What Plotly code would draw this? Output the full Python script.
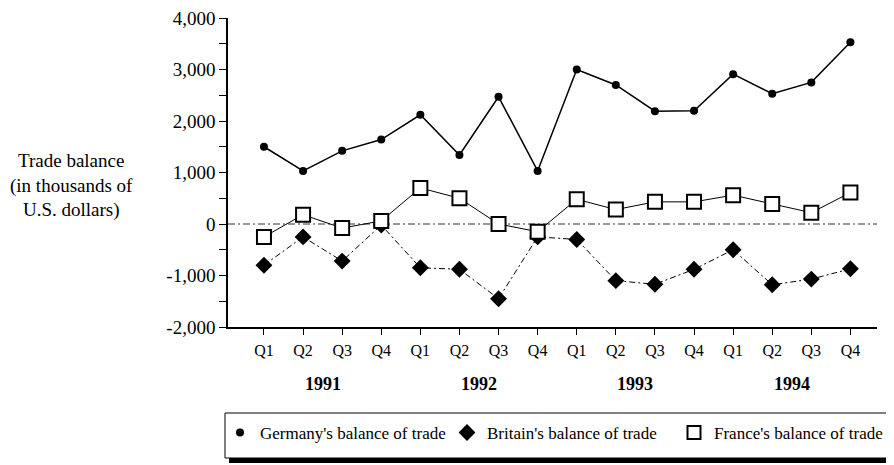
import plotly.graph_objects as go

quarters = ["Q1", "Q2", "Q3", "Q4"] * 4
years = ["1991", "1992", "1993", "1994"]
germany = [1500, 1030, 1420, 1640, 2120, 1340, 2470, 1030, 3000, 2700, 2190, 2200, 2910, 2530, 2750, 3530]
britain = [-800, -250, -720, -20, -850, -880, -1450, -250, -300, -1100, -1170, -880, -500, -1180, -1070, -870]
france = [-250, 180, -80, 60, 700, 500, 0, -150, 480, 280, 430, 430, 560, 390, 220, 610]
y_ticks = list(range(-2000, 4001, 500))
y_ticktext = [f"{v:,}" if v % 1000 == 0 else "" for v in y_ticks]

FONT = "Liberation Serif"
x = list(range(len(quarters)))

fig = go.Figure()
fig.add_trace(go.Scatter(x=x, y=germany, mode="lines+markers", showlegend=False,
                         line=dict(color="black", width=1.5),
                         marker=dict(symbol="circle", size=8, color="black")))
fig.add_trace(go.Scatter(x=x, y=britain, mode="lines+markers", showlegend=False,
                         line=dict(color="black", width=1, dash="6px,3px,2px,3px"),
                         marker=dict(symbol="diamond", size=13, color="black")))
fig.add_trace(go.Scatter(x=x, y=france, mode="lines+markers", showlegend=False,
                         line=dict(color="black", width=1),
                         marker=dict(symbol="square", size=14, color="white",
                                     line=dict(color="black", width=2))))
# legend-only entries (markers only, as in the reference)
fig.add_trace(go.Scatter(x=[None], y=[None], mode="markers", name="Germany's balance of trade",
                         marker=dict(symbol="circle", size=8, color="black")))
fig.add_trace(go.Scatter(x=[None], y=[None], mode="markers", name="Britain's balance of trade",
                         marker=dict(symbol="diamond", size=13, color="black")))
fig.add_trace(go.Scatter(x=[None], y=[None], mode="markers", name="France's balance of trade",
                         marker=dict(symbol="square", size=13, color="white",
                                     line=dict(color="black", width=2))))

# the page body has an 8px margin; work in page pixels and convert
OFF = 8
PAGE_W, PAGE_H = 894, 465
W, H = PAGE_W - OFF, PAGE_H - OFF
plot_left, plot_right, plot_top, plot_bottom = 228, 877, 18, 327  # page pixels
ml = plot_left - OFF
mt = plot_top - OFF
mr = W - (plot_right - OFF)
mb = H - (plot_bottom - OFF)
pw, ph = plot_right - plot_left, plot_bottom - plot_top

def px(xpix):
    return (xpix - plot_left) / pw

def py(ypix):
    return (plot_bottom - ypix) / ph

shapes = [
    dict(type="line", xref="paper", yref="y", x0=0, x1=1, y0=0, y1=0, layer="below",
         line=dict(color="#333333", width=1, dash="7px,3px,2px,3px")),
    # legend shadow
    dict(type="rect", xref="paper", yref="paper", x0=px(229), x1=px(892), y0=py(463), y1=py(417),
         fillcolor="black", line=dict(width=0)),
    # legend box
    dict(type="rect", xref="paper", yref="paper", x0=px(225), x1=px(887), y0=py(458), y1=py(413),
         fillcolor="white", line=dict(color="black", width=1)),
]

annotations = [
    dict(text="Trade balance<br>(in thousands of<br>U.S. dollars)", xref="paper", yref="paper",
         x=px(71), y=py(185), xanchor="center", yanchor="middle", showarrow=False,
         align="center", font=dict(family=FONT, size=19, color="black")),
]
for i, yr in enumerate(years):
    annotations.append(dict(text=f"<b>{yr}</b>", xref="x", yref="paper", x=i * 4 + 1.5, y=py(384),
                            xanchor="center", yanchor="middle", showarrow=False,
                            font=dict(family=FONT, size=18, color="black")))

fig.update_layout(
    width=W, height=H,
    margin=dict(l=ml, r=mr, t=mt, b=mb, autoexpand=False),
    paper_bgcolor="white", plot_bgcolor="white",
    font=dict(family=FONT, color="black"),
    shapes=shapes, annotations=annotations,
    showlegend=True,
    legend=dict(orientation="h", x=px(220), y=py(415), xanchor="left", yanchor="top",
                bgcolor="rgba(0,0,0,0)", borderwidth=0, entrywidth=182,
                font=dict(family=FONT, size=17, color="black")),
    xaxis=dict(range=[-0.92, 15.68], tickvals=x, ticktext=quarters, showgrid=False, zeroline=False,
               showline=True, linecolor="black", linewidth=1.5, ticks="outside", ticklen=6,
               tickcolor="black", tickwidth=1, ticklabelstandoff=2,
               tickfont=dict(family=FONT, size=16, color="black")),
    yaxis=dict(range=[-2000, 4000], tickvals=y_ticks, ticktext=y_ticktext, showgrid=False,
               zeroline=False, showline=True, linecolor="black", linewidth=1.5, ticks="outside",
               ticklen=7, tickcolor="black", tickwidth=1, ticklabeloverflow="allow",
               tickfont=dict(family=FONT, size=19, color="black")),
)

fig.write_html("out.html")
